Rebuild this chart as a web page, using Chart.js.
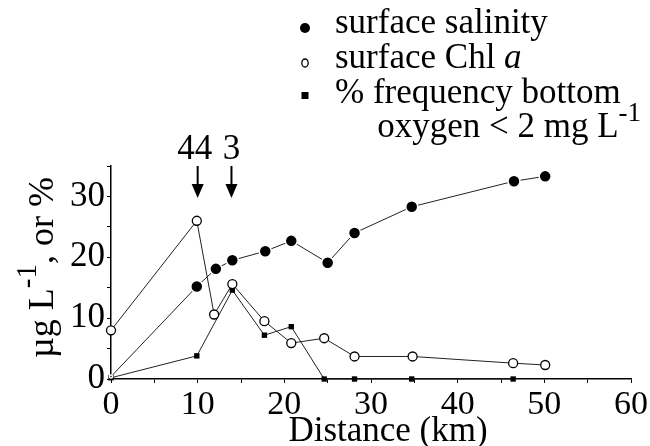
<!DOCTYPE html>
<html>
<head>
<meta charset="utf-8">
<script src="https://cdn.jsdelivr.net/npm/chart.js@4.4.1/dist/chart.umd.min.js"></script>
<style>
  html, body { margin: 0; padding: 0; background: #fff; }
  #wrap { width: 650px; height: 446px; position: relative; }
</style>
</head>
<body>
<div id="wrap"><canvas id="c" width="650" height="446"></canvas></div>
<script>
// ---- data ----
const salinityKm = [0, 9.9, 12.1, 14.0, 17.8, 20.8, 25.0, 28.1, 34.7, 46.5, 50.1];
const salinity   = [0.4, 15.2, 18.1, 19.5, 21.0, 22.7, 19.1, 24.0, 28.3, 32.5, 33.3];
const chlKm      = [0, 9.9, 11.9, 14.0, 17.7, 20.8, 24.6, 28.1, 34.8, 46.4, 50.1];
const chl        = [8.0, 26.0, 10.6, 15.6, 9.5, 5.9, 6.7, 3.7, 3.7, 2.6, 2.3];
const oxygenKm   = [0, 9.9, 14.0, 17.7, 20.8, 24.6, 28.1, 34.7, 46.4];
const oxygen     = [0.2, 3.8, 14.6, 7.2, 8.6, 0, 0, 0, 0];
const xTicks     = [0, 10, 20, 30, 40, 50, 60];
const yTicks     = [0, 10, 20, 30];
const arrowKm    = [10, 13.9];
const arrowLabels = ['44', '3'];
const seriesNames = ['surface salinity', 'surface Chl ', '% frequency bottom'];
const xTitle = 'Distance (km)';

const toPts = (xs, ys) => xs.map((x, i) => ({ x: x, y: ys[i] }));
const SERIF = '"Liberation Serif", "Times New Roman", serif';

const overlay = {
  id: 'overlay',
  afterDraw(chart) {
    const ctx = chart.ctx;
    const xs = chart.scales.x;
    const area = chart.chartArea;
    ctx.save();
    ctx.fillStyle = '#000';
    ctx.strokeStyle = '#000';
    ctx.textBaseline = 'alphabetic';

    // x axis title
    ctx.font = '35px ' + SERIF;
    ctx.textAlign = 'center';
    ctx.fillText(xTitle, (area.left + area.right) / 2 + 17, 441);

    // legend
    const F = '35px ' + SERIF;
    ctx.font = F;
    ctx.textAlign = 'left';
    const lx = 335, mx = 305;
    // filled dot
    ctx.beginPath(); ctx.arc(mx, 28, 5, 0, Math.PI * 2); ctx.fill();
    ctx.fillText(seriesNames[0], lx, 33);
    // open circle
    ctx.lineWidth = 1.3;
    ctx.beginPath(); ctx.ellipse(mx, 63, 3.2, 4, 0, 0, Math.PI * 2); ctx.stroke();
    ctx.fillText(seriesNames[1], lx, 68);
    const w1 = ctx.measureText(seriesNames[1]).width;
    ctx.font = 'italic ' + F;
    ctx.fillText('a', lx + w1, 68);
    ctx.font = F;
    // square
    ctx.fillRect(mx - 3.5, 92, 7, 7);
    ctx.fillText(seriesNames[2], lx, 103);
    // oxygen line, right aligned with superscript
    const main = 'oxygen < 2 mg L';
    ctx.font = '27px ' + SERIF;
    const supW = ctx.measureText('-1').width;
    ctx.font = F;
    const mainW = ctx.measureText(main).width;
    const endX = 641;
    ctx.fillText(main, endX - supW - mainW, 137);
    ctx.font = '27px ' + SERIF;
    ctx.fillText('-1', endX - supW, 121);

    // arrows with labels
    ctx.font = '35px ' + SERIF;
    ctx.textAlign = 'center';
    arrowKm.forEach((km, i) => {
      const px = xs.getPixelForValue(km);
      ctx.fillText(arrowLabels[i], px - (i === 0 ? 3 : 0), 159);
      ctx.lineWidth = 2;
      ctx.beginPath(); ctx.moveTo(px, 166); ctx.lineTo(px, 186); ctx.stroke();
      ctx.beginPath();
      ctx.moveTo(px - 6, 184); ctx.lineTo(px + 6, 184); ctx.lineTo(px, 198);
      ctx.closePath(); ctx.fill();
    });

    // y axis title (rotated) with superscript
    ctx.translate(53, 358);
    ctx.rotate(-Math.PI / 2);
    ctx.textAlign = 'left';
    const p1 = '\u00B5g L';
    const p2 = ', or %';
    ctx.font = '36px ' + SERIF;
    ctx.fillText(p1, 0, 0);
    let w = ctx.measureText(p1).width;
    ctx.font = '29px ' + SERIF;
    ctx.fillText('-1', w, -17);
    w += ctx.measureText('-1').width;
    ctx.font = '36px ' + SERIF;
    ctx.fillText(p2, w, 0);
    ctx.restore();
  }
};

new Chart(document.getElementById('c'), {
  type: 'scatter',
  data: {
    datasets: [
      {
        label: 'surface salinity',
        data: toPts(salinityKm, salinity),
        showLine: true,
        borderColor: '#222',
        borderWidth: 1,
        pointStyle: 'circle',
        pointRadius: (c) => c.dataIndex === 0 ? 1.5 : 6,
        pointBackgroundColor: '#000',
        pointBorderColor: '#fff',
        pointBorderWidth: 1.5,
        clip: false
      },
      {
        label: 'surface Chl a',
        data: toPts(chlKm, chl),
        showLine: true,
        borderColor: '#222',
        borderWidth: 1,
        pointStyle: 'circle',
        pointRadius: 4.5,
        pointBackgroundColor: '#fff',
        pointBorderColor: '#000',
        pointBorderWidth: 1.3,
        clip: false
      },
      {
        label: '% frequency bottom oxygen < 2 mg L-1',
        data: toPts(oxygenKm, oxygen),
        showLine: true,
        borderColor: '#222',
        borderWidth: 1,
        pointStyle: 'rect',
        pointRadius: 3.8,
        pointBackgroundColor: '#000',
        pointBorderColor: '#000',
        pointBorderWidth: 0,
        clip: false
      }
    ]
  },
  options: {
    responsive: false,
    animation: false,
    events: [],
    layout: { padding: { top: 166, right: 14, left: 0, bottom: 0 } },
    plugins: { legend: { display: false }, tooltip: { enabled: false } },
    scales: {
      x: {
        type: 'linear',
        min: 0, max: 60,
        afterFit: (s) => { s.height = 67; },
        afterBuildTicks: (s) => {
          const t = [];
          for (let v = 0; v <= 60; v += 5) t.push({ value: v });
          s.ticks = t;
        },
        ticks: {
          autoSkip: false,
          maxRotation: 0,
          padding: 2,
          color: '#000',
          font: { family: SERIF, size: 34 },
          callback: (v) => xTicks.includes(v) ? String(v) : ''
        },
        grid: { drawOnChartArea: false, drawTicks: true, tickLength: 4, color: '#000', lineWidth: 1 },
        border: { display: true, color: '#000', width: 1.5 },
        title: { display: false }
      },
      y: {
        type: 'linear',
        min: 0, max: 35,
        afterFit: (s) => { s.width = 111; },
        afterBuildTicks: (s) => {
          const t = [];
          for (let v = 0; v <= 35; v += 5) t.push({ value: v });
          s.ticks = t;
        },
        ticks: {
          autoSkip: false,
          padding: 2,
          color: '#000',
          font: { family: SERIF, size: 35 },
          callback: (v) => yTicks.includes(v) ? String(v) : ''
        },
        grid: { drawOnChartArea: false, drawTicks: true, tickLength: 4, color: '#000', lineWidth: 1 },
        border: { display: true, color: '#000', width: 1.5 }
      }
    }
  },
  plugins: [overlay]
});
</script>
</body>
</html>
